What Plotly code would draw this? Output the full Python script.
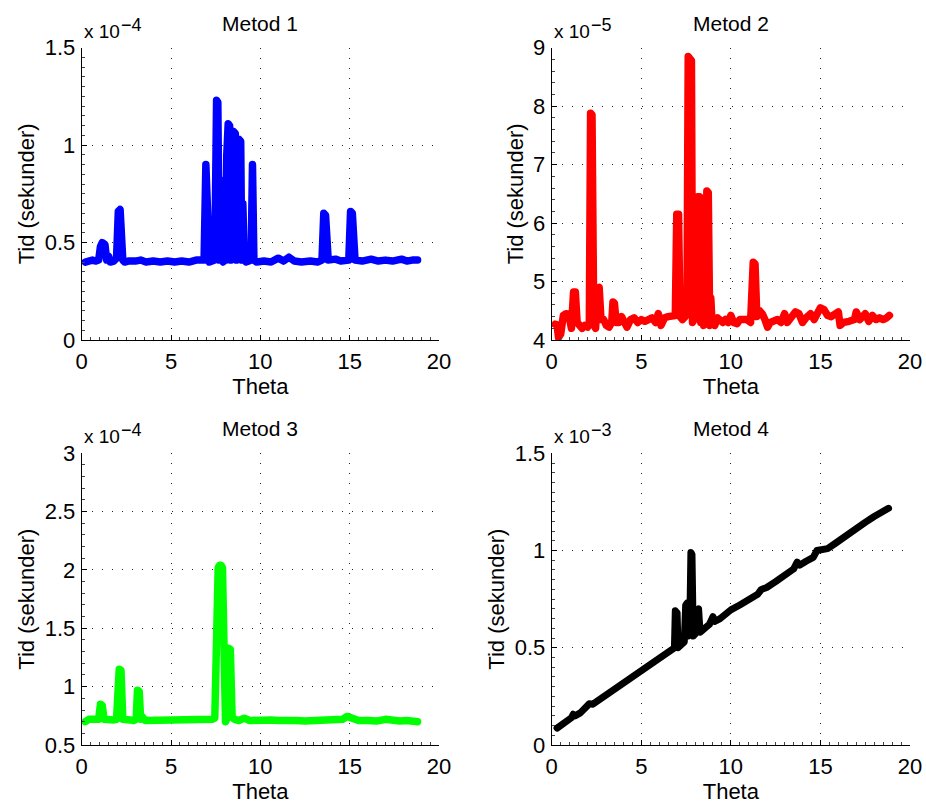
import plotly.graph_objects as go

# ---------------- data (values shown in axis units: x10^-4, x10^-5, x10^-4, x10^-3) -------------
theta1 = [0.2, 0.4, 0.6, 0.8, 0.95, 1.05, 1.15, 1.3, 1.4, 1.5, 1.6, 1.8, 1.95, 2.05, 2.15, 2.3, 2.4,
          2.6, 2.8, 3.0, 3.3, 3.6, 4.0, 4.4, 4.8, 5.2, 5.6, 6.0, 6.4, 6.7, 6.85, 6.95, 7.05, 7.15, 7.3,
          7.45, 7.55, 7.62, 7.7, 7.78, 7.85, 7.92, 8.0, 8.06, 8.12, 8.2, 8.28, 8.34, 8.4, 8.5, 8.6,
          8.66, 8.72, 8.8, 8.9, 8.96, 9.02, 9.1, 9.2, 9.35, 9.48, 9.56, 9.64, 9.8, 10.2, 10.6, 11.0,
          11.3, 11.6, 11.9, 12.3, 12.8, 13.2, 13.45, 13.55, 13.65, 13.8, 14.2, 14.5, 14.8, 14.95,
          15.05, 15.15, 15.3, 15.7, 16.2, 16.6, 17.0, 17.4, 17.9, 18.2, 18.5, 18.8]
tid1 = [0.40, 0.405, 0.41, 0.405, 0.41, 0.48, 0.50, 0.49, 0.41, 0.43, 0.40, 0.405, 0.42, 0.66, 0.67,
        0.41, 0.40, 0.405, 0.40, 0.405, 0.41, 0.40, 0.405, 0.40, 0.405, 0.40, 0.405, 0.40, 0.41,
        0.405, 0.41, 0.90, 0.41, 0.40, 0.405, 0.41, 1.23, 1.22, 0.41, 0.82, 0.42, 0.40, 0.74, 0.41,
        0.95, 1.11, 1.10, 0.41, 0.90, 1.07, 1.06, 0.41, 0.85, 1.03, 1.02, 0.41, 0.70, 0.41, 0.40,
        0.405, 0.41, 0.90, 0.41, 0.40, 0.405, 0.40, 0.42, 0.405, 0.425, 0.405, 0.40, 0.405, 0.40,
        0.41, 0.65, 0.64, 0.41, 0.415, 0.405, 0.415, 0.41, 0.66, 0.65, 0.41, 0.405, 0.415, 0.405,
        0.41, 0.405, 0.415, 0.405, 0.41, 0.41]

theta2 = [0.2, 0.3, 0.38, 0.5, 0.65, 0.8, 0.95, 1.1, 1.22, 1.32, 1.42, 1.55, 1.7, 1.85, 2.0, 2.1,
          2.17, 2.25, 2.35, 2.45, 2.55, 2.65, 2.75, 2.9, 3.05, 3.2, 3.35, 3.42, 3.5, 3.6, 3.75, 3.9,
          4.05, 4.2, 4.4, 4.6, 4.8, 5.0, 5.2, 5.4, 5.6, 5.8, 5.95, 6.1, 6.3, 6.5, 6.7, 6.9, 6.98,
          7.08, 7.16, 7.3, 7.45, 7.55, 7.62, 7.72, 7.8, 7.86, 7.95, 8.05, 8.15, 8.25, 8.32, 8.4,
          8.48, 8.56, 8.66, 8.74, 8.82, 8.88, 8.95, 9.1, 9.25, 9.4, 9.55, 9.7, 9.85, 10.0, 10.15,
          10.35, 10.5, 10.7, 10.9, 11.1, 11.25, 11.35, 11.45, 11.6, 11.75, 11.9, 12.05, 12.2, 12.4,
          12.6, 12.8, 13.0, 13.15, 13.35, 13.6, 13.8, 14.0, 14.2, 14.45, 14.65, 14.85, 15.0, 15.2,
          15.4, 15.6, 15.8, 16.0, 16.1, 16.3, 16.6, 16.9, 17.0, 17.2, 17.5, 17.7, 17.9, 18.1, 18.3,
          18.5, 18.7, 18.85]
tid2 = [4.27, 4.26, 4.04, 4.10, 4.42, 4.45, 4.44, 4.20, 4.82, 4.82, 4.30, 4.25, 4.20, 4.25, 4.22,
        4.28, 7.88, 7.85, 4.25, 4.20, 4.88, 4.90, 4.35, 4.35, 4.25, 4.22, 4.30, 4.65, 4.63, 4.30,
        4.30, 4.40, 4.30, 4.22, 4.35, 4.38, 4.30, 4.35, 4.32, 4.35, 4.38, 4.30, 4.45, 4.25, 4.38,
        4.40, 4.40, 4.42, 6.15, 6.15, 4.40, 4.35, 4.40, 4.50, 8.85, 8.82, 8.78, 4.30, 4.35, 4.40,
        6.45, 6.45, 4.30, 6.10, 4.25, 4.30, 6.55, 6.52, 4.25, 4.72, 4.30, 4.25, 4.38, 4.35, 4.30,
        4.35, 4.30, 4.42, 4.30, 4.28, 4.35, 4.35, 4.35, 4.30, 5.33, 5.30, 4.40, 4.50, 4.45, 4.35,
        4.22, 4.30, 4.32, 4.35, 4.30, 4.45, 4.30, 4.38, 4.48, 4.45, 4.30, 4.38, 4.45, 4.35, 4.45,
        4.55, 4.52, 4.42, 4.40, 4.45, 4.48, 4.25, 4.30, 4.32, 4.35, 4.48, 4.35, 4.45, 4.32, 4.42,
        4.35, 4.38, 4.35, 4.38, 4.42]

theta3 = [0.2, 0.4, 0.6, 0.8, 0.95, 1.05, 1.15, 1.25, 1.4, 1.6, 1.8, 1.95, 2.1, 2.2, 2.3, 2.5, 2.7,
          2.9, 3.05, 3.12, 3.22, 3.3, 3.4, 3.55, 3.8, 4.2, 4.6, 5.0, 5.4, 5.8, 6.2, 6.6, 7.0, 7.3,
          7.45, 7.5, 7.56, 7.64, 7.72, 7.8, 7.88, 7.95, 8.05, 8.12, 8.22, 8.32, 8.42, 8.55, 8.8, 9.1,
          9.4, 9.8, 10.2, 10.6, 11.0, 11.4, 11.7, 12.0, 12.5, 13.0, 13.5, 13.8, 14.2, 14.6, 14.85,
          15.0, 15.2, 15.5, 16.0, 16.5, 17.0, 17.4, 17.8, 18.2, 18.5, 18.8]
tid3 = [0.70, 0.72, 0.72, 0.715, 0.72, 0.85, 0.84, 0.72, 0.715, 0.72, 0.715, 0.72, 1.15, 1.14, 0.72,
        0.71, 0.715, 0.71, 0.72, 0.97, 0.96, 0.72, 0.74, 0.71, 0.71, 0.705, 0.71, 0.705, 0.71, 0.72,
        0.71, 0.72, 0.71, 0.72, 0.73, 1.48, 1.20, 2.02, 2.04, 2.04, 2.02, 0.72, 0.70, 0.72, 1.33,
        1.32, 0.74, 0.72, 0.71, 0.73, 0.71, 0.715, 0.71, 0.715, 0.71, 0.715, 0.72, 0.71, 0.705,
        0.71, 0.71, 0.72, 0.71, 0.72, 0.745, 0.735, 0.72, 0.71, 0.71, 0.705, 0.72, 0.71, 0.705,
        0.71, 0.705, 0.70]

theta4 = [0.3, 0.6, 0.9, 1.1, 1.2, 1.3, 1.6, 1.9, 2.1, 2.3, 2.7, 3.0, 3.5, 4.0, 4.5, 5.0, 5.5, 6.0,
          6.4, 6.75, 6.85, 6.9, 7.0, 7.05, 7.2, 7.4, 7.48, 7.56, 7.62, 7.7, 7.77, 7.83, 7.9, 8.0,
          8.1, 8.2, 8.28, 8.4, 8.6, 8.8, 9.0, 9.1, 9.4, 9.8, 10.0, 10.5, 11.0, 11.5, 11.7, 12.0,
          12.5, 13.0, 13.5, 13.7, 13.85, 14.2, 14.6, 14.8, 15.0, 15.4, 15.8, 16.3, 16.8, 17.0, 17.5,
          18.0, 18.4, 18.8]
tid4 = [0.087, 0.105, 0.125, 0.14, 0.158, 0.15, 0.165, 0.19, 0.212, 0.21, 0.235, 0.255, 0.285,
        0.315, 0.345, 0.375, 0.41, 0.44, 0.465, 0.49, 0.50, 0.69, 0.68, 0.50, 0.51, 0.53, 0.72,
        0.73, 0.56, 0.57, 0.99, 0.98, 0.56, 0.57, 0.69, 0.70, 0.58, 0.59, 0.61, 0.62, 0.66, 0.635,
        0.65, 0.68, 0.695, 0.72, 0.745, 0.775, 0.80, 0.81, 0.84, 0.87, 0.905, 0.94, 0.925, 0.945,
        0.965, 1.0, 1.005, 1.01, 1.035, 1.07, 1.105, 1.12, 1.145, 1.175, 1.195, 1.217]

titles = ["Metod 1", "Metod 2", "Metod 3", "Metod 4"]
exponents = ["−4", "−5", "−4", "−3"]
y_ranges = [[0, 1.5], [4, 9], [0.5, 3], [0, 1.5]]
y_dticks = [0.5, 1, 0.5, 0.5]
y_minor = [0.05, 0.2, 0.1, 0.05]
colors = ["#0000ff", "#ff0000", "#00ff00", "#000000"]
widths = [7.5, 7.5, 7.5, 7]
x_label = "Theta"
y_label = "Tid (sekunder)"

series = [(theta1, tid1), (theta2, tid2), (theta3, tid3), (theta4, tid4)]

W, H = 926, 808
# axes boxes in pixels (left, right, top, bottom)
boxes = [(81.7, 439.0, 47.7, 340.0), (551.7, 910.0, 47.7, 340.0),
         (81.7, 439.0, 453.3, 745.0), (551.7, 910.0, 453.3, 745.0)]

FONT = "Liberation Sans, Arial, Helvetica, sans-serif"
FS = 22

fig = go.Figure()
layout = dict(
    width=W, height=H, autosize=False,
    margin=dict(l=0, r=0, t=0, b=0, pad=0, autoexpand=False),
    paper_bgcolor="white", plot_bgcolor="white", showlegend=False,
    font=dict(family=FONT, color="black", size=FS),
)
annotations = []
for i, ((xs, ys), (l, r, t, b)) in enumerate(zip(series, boxes)):
    n = "" if i == 0 else str(i + 1)
    fig.add_trace(go.Scatter(x=xs, y=ys, mode="lines",
                             line=dict(color=colors[i], width=widths[i], shape="linear"),
                             xaxis="x" + n, yaxis="y" + n, hoverinfo="skip"))
    xd = [l / W, r / W]
    yd = [1 - b / H, 1 - t / H]
    common = dict(showgrid=True, gridcolor="#222", gridwidth=1, griddash="1px,9px",
                  showline=True, linecolor="black", linewidth=1, mirror=False,
                  ticks="inside", ticklen=5, tickcolor="black", zeroline=False,
                  automargin=False,
                  tickfont=dict(size=FS, family=FONT, color="black"))
    layout["xaxis" + n] = dict(domain=xd, range=[0, 20], tick0=0, dtick=5,
                               anchor="y" + n, ticklabelstandoff=2,
                               minor=dict(ticks="inside", ticklen=3, dtick=0.5, tickcolor="#444",
                                          showgrid=False),
                               title=dict(text=x_label, font=dict(size=FS, family=FONT), standoff=0),
                               **common)
    layout["yaxis" + n] = dict(domain=yd, range=y_ranges[i], tick0=0, dtick=y_dticks[i],
                               anchor="x" + n, ticklabelstandoff=1,
                               minor=dict(ticks="inside", ticklen=3, dtick=y_minor[i],
                                          tickcolor="#444", showgrid=False),
                               title=dict(text=y_label, font=dict(size=FS, family=FONT), standoff=3),
                               **common)
    annotations.append(dict(text=titles[i], xref="paper", yref="paper",
                            x=(xd[0] + xd[1]) / 2, y=yd[1], yshift=11,
                            xanchor="center", yanchor="bottom", showarrow=False,
                            font=dict(size=21, family=FONT, color="black")))
    annotations.append(dict(text="x 10", xref="paper", yref="paper",
                            x=xd[0], y=yd[1], xanchor="left", yanchor="bottom", yshift=4,
                            showarrow=False, font=dict(size=19, family=FONT, color="black")))
    annotations.append(dict(text=exponents[i], xref="paper", yref="paper",
                            x=xd[0], y=yd[1], xanchor="left", yanchor="bottom",
                            xshift=37, yshift=11,
                            showarrow=False, font=dict(size=18, family=FONT, color="black")))
layout["annotations"] = annotations
fig.update_layout(**layout)

page_fix = """
var s = document.createElement('style');
s.textContent = 'html,body{margin:0;padding:0;overflow:hidden;}' +
  '.js-line{stroke-linejoin:round !important;stroke-linecap:round !important;}';
document.head.appendChild(s);
"""
fig.write_html("out.html", post_script=page_fix, config={"responsive": False})
